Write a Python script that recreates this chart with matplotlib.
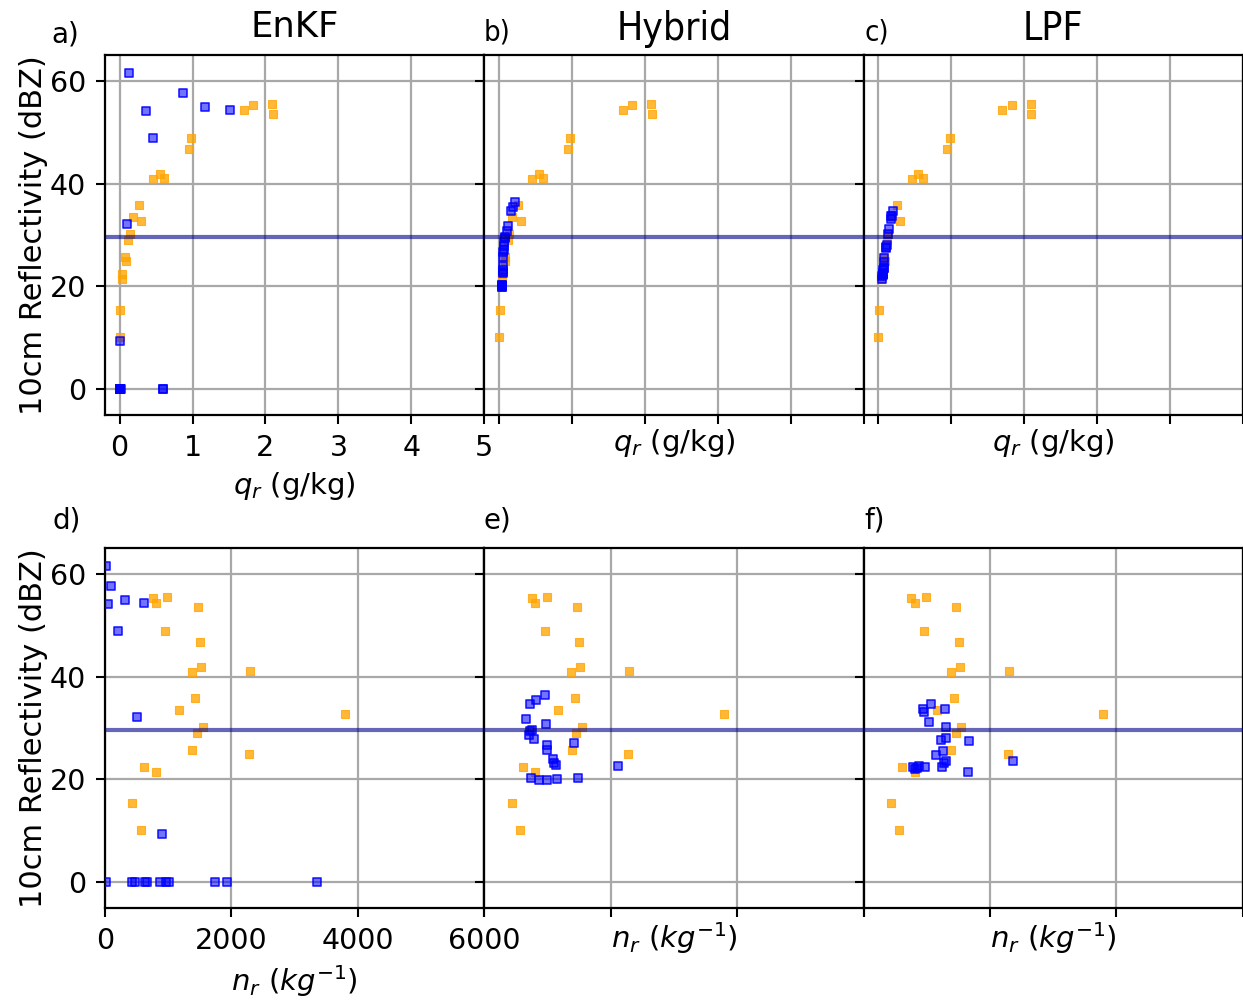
import matplotlib
matplotlib.use("Agg")
import matplotlib.pyplot as plt
from matplotlib import font_manager

# ---------------- data ----------------
titles = ["EnKF", "Hybrid", "LPF"]
obs_dbz = 29.7

# orange points (same in all panels)
orange_z = [55.4, 55.3, 54.4, 53.6, 48.9, 46.7, 41.9, 41.0, 40.8, 35.8,
            33.5, 32.8, 30.1, 29.1, 25.8, 24.9, 22.4, 21.5, 15.5, 10.1]
orange_qr = [2.09, 1.83, 1.70, 2.10, 0.98, 0.95, 0.549, 0.61, 0.457, 0.26,
             0.183, 0.30, 0.137, 0.119, 0.078, 0.09, 0.037, 0.037, 0.009, 0.0]
orange_nr = [987, 755, 808, 1468, 955, 1504, 1520, 2296, 1378, 1430,
             1167, 3790, 1547, 1457, 1383, 2280, 613, 808, 433, 565]

# EnKF (blue)
enkf_z = [61.5, 57.6, 54.1, 54.9, 54.4, 48.8, 32.1, 9.4,
          0, 0, 0, 0, 0, 0, 0, 0, 0, 0, 0]
enkf_qr = [0.124, 0.864, 0.357, 1.17, 1.52, 0.457, 0.105, 0.01,
           0.0, 0.0, 0.01, 0.0, 0.02, 0.0, 0.6, 0.0, 0.01, 0.6, 0.0]
enkf_nr = [16, 100, 48, 322, 623, 211, 512, 903,
           16, 423, 480, 630, 660, 870, 966, 1013, 1742, 1927, 3352]

# Hybrid (blue)
hyb_z = [36.4, 35.5, 34.7, 31.7, 30.8, 29.7, 29.4, 28.6, 27.9, 27.1, 26.7,
         25.8, 23.9, 23.2, 22.8, 22.6, 20.3, 19.8, 19.8, 20.0, 20.3]
hyb_qr = [0.225, 0.19, 0.16, 0.12, 0.105, 0.09, 0.085, 0.075, 0.07, 0.065, 0.063,
          0.06, 0.056, 0.051, 0.055, 0.06, 0.042, 0.038, 0.037, 0.04, 0.045]
hyb_nr = [962, 810, 720, 662, 973, 747, 720, 704, 783, 1416, 989,
          989, 1079, 1095, 1127, 2108, 736, 867, 989, 1152, 1484]

# LPF (blue)
lpf_z = [34.6, 33.7, 33.2, 33.7, 31.2, 30.1, 27.5, 28.1, 27.7, 25.6, 24.8,
         23.5, 23.5, 23.2, 22.4, 22.4, 22.2, 22.6, 22.4, 22.1, 21.4]
lpf_qr = [0.206, 0.18, 0.175, 0.185, 0.151, 0.135, 0.11, 0.12, 0.112, 0.083, 0.08,
          0.078, 0.075, 0.07, 0.065, 0.06, 0.062, 0.068, 0.063, 0.058, 0.055]
lpf_nr = [1063, 946, 962, 1285, 1036, 1305, 1669, 1305, 1226, 1263, 1142,
          2365, 1305, 1279, 1237, 788, 842, 883, 973, 815, 1658]

blue_z = [enkf_z, hyb_z, lpf_z]
blue_qr = [enkf_qr, hyb_qr, lpf_qr]
blue_nr = [enkf_nr, hyb_nr, lpf_nr]

qr_ticks = [0, 1, 2, 3, 4, 5]
nr_ticks = [0, 2000, 4000, 6000]
y_ticks = [0, 20, 40, 60]

# ---------------- fonts ----------------
plt.rcParams['font.family'] = ['DejaVu Sans']
_names = {f.name for f in font_manager.fontManager.ttflist}
if 'Liberation Sans Narrow' in _names:
    narrow = dict(family='Liberation Sans Narrow')
    narrow_title_size = 31
    narrow_label_size = 23
else:
    narrow = dict(family='DejaVu Sans', stretch='condensed')
    narrow_title_size = 28
    narrow_label_size = 21

TICK = 20.5
LAB = 21

# ---------------- figure ----------------
fig = plt.figure(figsize=(12.43, 10.02), dpi=100)

W, H = 1243.0, 1002.0
left0 = 105 / W
pw = 379.3 / W
top_row = (1 - 415 / H, 360 / H)
bot_row = (1 - 908 / H, 360 / H)

ORANGE = (1.0, 0.647, 0.0, 0.78)
BLUE_FACE = (0.0, 0.0, 1.0, 0.55)
BLUE_EDGE = (0.0, 0.0, 1.0, 0.85)
MS = 30


def style(ax):
    ax.set_ylim(-5, 65)
    ax.set_yticks(y_ticks)
    ax.grid(True, color='#a8a8a8', linewidth=1.6)
    ax.set_axisbelow(True)
    for s in ax.spines.values():
        s.set_linewidth(1.6)
    ax.tick_params(labelsize=TICK, length=6.5, width=1.5, pad=7)


def blue_scatter(ax, x, y):
    ax.scatter(x, y, marker='s', s=MS, facecolors=BLUE_FACE,
               edgecolors=BLUE_EDGE, linewidths=1.2, zorder=4)


axes_top, axes_bot = [], []
for i in range(3):
    axt = fig.add_axes([left0 + i * pw, top_row[0], pw, top_row[1]])
    axb = fig.add_axes([left0 + i * pw, bot_row[0], pw, bot_row[1]])
    axes_top.append(axt)
    axes_bot.append(axb)

for i in range(3):
    axt, axb = axes_top[i], axes_bot[i]
    # top: q_r
    axt.scatter(orange_qr, orange_z, marker='s', s=MS, color=ORANGE,
                linewidths=0.8, zorder=3)
    blue_scatter(axt, blue_qr[i], blue_z[i])
    axt.axhline(obs_dbz, color='darkblue', alpha=0.6, linewidth=3, zorder=5)
    axt.set_xlim(-0.2, 5)
    axt.set_xticks(qr_ticks)
    style(axt)
    # bottom: n_r
    axb.scatter(orange_nr, orange_z, marker='s', s=MS, color=ORANGE,
                linewidths=0.8, zorder=3)
    blue_scatter(axb, blue_nr[i], blue_z[i])
    axb.axhline(obs_dbz, color='darkblue', alpha=0.6, linewidth=3, zorder=5)
    axb.set_xlim(0, 6000)
    axb.set_xticks(nr_ticks)
    style(axb)
    if i == 0:
        axt.set_xlabel(r'$q_r$ (g/kg)', fontsize=LAB, labelpad=6)
        axb.set_xlabel(r'$n_r\ (kg^{-1})$', fontsize=LAB, labelpad=6)
        axt.set_ylabel('10cm Reflectivity (dBZ)', fontsize=22, labelpad=1)
        axb.set_ylabel('10cm Reflectivity (dBZ)', fontsize=22, labelpad=1)
        axt.set_title(titles[i], fontsize=25.5, pad=13)
    else:
        axt.set_xlabel(r'$q_r$ (g/kg)', fontsize=LAB, labelpad=2)
        axb.set_xlabel(r'$n_r\ (kg^{-1})$', fontsize=LAB, labelpad=2)
        for ax in (axt, axb):
            ax.tick_params(labelleft=False, labelbottom=False)
        axt.set_title(titles[i], fontsize=narrow_title_size, pad=11, **narrow)

# panel labels
fig.text(65 / W, 1 - 35 / H, 'a)', fontsize=20, ha='center', va='center')
fig.text(497 / W, 1 - 33 / H, 'b)', fontsize=narrow_label_size, ha='center', va='center', **narrow)
fig.text(877 / W, 1 - 33 / H, 'c)', fontsize=narrow_label_size, ha='center', va='center', **narrow)
fig.text(67 / W, 1 - 520 / H, 'd)', fontsize=20, ha='center', va='center')
fig.text(497 / W, 1 - 520 / H, 'e)', fontsize=20, ha='center', va='center')
fig.text(875 / W, 1 - 520 / H, 'f)', fontsize=20, ha='center', va='center')

fig.savefig('out.png', dpi=100)
